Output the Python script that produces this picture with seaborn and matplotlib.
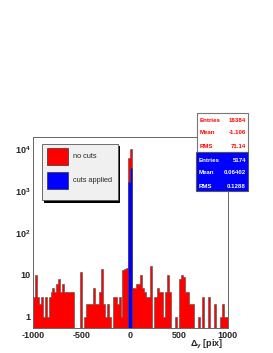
import numpy as np
import pandas as pd
import matplotlib
matplotlib.use("Agg")
import matplotlib.pyplot as plt
import seaborn as sns
from matplotlib.patches import Rectangle
from matplotlib.ticker import LogLocator, MultipleLocator, NullFormatter

# Histogram: 100 bins from -1000 to 1000 (width 20)
n_bins = 100
x_lo, x_hi = -1000, 1000

# "no cuts" counts, bins -1000..0 then 0..1000
red_left = [3, 10, 3, 2, 3, 1, 3, 1, 3, 4,
            5, 4, 6, 8, 4, 6, 4, 4, 4, 4,
            4, 0, 0, 0, 12, 0, 1, 2, 2, 2,
            2, 5, 2, 2, 4, 14, 2, 1, 2, 1,
            0, 3, 3, 2, 3, 1, 13, 14, 15, 6000]
red_right = [10033, 5, 5, 6, 6, 10, 5, 4, 3, 3,
             16, 0, 3, 3, 5, 4, 4, 1, 4, 10,
             4, 0, 0, 1, 0, 8, 10, 9, 4, 4,
             2, 2, 2, 0, 0, 1, 0, 3, 0, 0,
             3, 0, 0, 2, 0, 0, 1, 2, 1, 1]

# "cuts applied" counts: everything sits in the two bins around 0
blue_left = [0] * 49 + [1620]
blue_right = [3554] + [0] * 49

legend_labels = ["no cuts", "cuts applied"]
stats_red = [("Entries", "16384"), ("Mean", "-1.106"), ("RMS", "71.14")]
stats_blue = [("Entries", "5174"), ("Mean", "0.06402"), ("RMS", "0.1288")]

y_ticks = [1, 10, 100, 1000, 10000]
y_tick_labels = ["1", "10", r"$10^{2}$", r"$10^{3}$", r"$10^{4}$"]
x_ticks = [-1000, -500, 0, 500, 1000]

sns.set_style("white")
plt.rcParams["font.family"] = ["Liberation Sans", "DejaVu Sans"]
plt.rcParams["mathtext.fontset"] = "custom"
plt.rcParams["mathtext.rm"] = "Liberation Sans:bold"
plt.rcParams["mathtext.it"] = "Liberation Sans:bold"
plt.rcParams["mathtext.bf"] = "Liberation Sans:bold"

W, H = 273, 353


def fx(x):
    return x / W


def fy(y):
    return 1 - y / H


def box(x0, y0, x1, y1, **kw):
    return Rectangle((fx(x0), fy(y1)), fx(x1) - fx(x0), fy(y0) - fy(y1),
                     transform=fig.transFigure, **kw)


fig = plt.figure(figsize=(W / 100, H / 100), dpi=100)
ax = fig.add_axes([fx(33), fy(328), fx(227.5) - fx(33), fy(137) - fy(328)])

edges = list(np.linspace(x_lo, x_hi, n_bins + 1))
centers = [(a + b) / 2 for a, b in zip(edges[:-1], edges[1:])]
df_red = pd.DataFrame({"dy": centers, "n": red_left + red_right})
df_blue = pd.DataFrame({"dy": centers, "n": blue_left + blue_right})

sns.histplot(data=df_red, x="dy", weights="n", bins=edges, element="step",
             fill=True, color="#ff0000", alpha=1, edgecolor="#4a4a4a",
             linewidth=0.4, ax=ax)
sns.histplot(data=df_blue, x="dy", weights="n", bins=edges, element="step",
             fill=True, color="#0000ff", alpha=1, edgecolor="#4a4a4a",
             linewidth=0.4, ax=ax)

ax.set_yscale("log")
ax.set_xlim(x_lo, x_hi)
ax.set_ylim(0.547, 19300)
ax.set_ylabel("")
ax.set_xlabel("")

ax.set_yticks(y_ticks)
ax.set_yticklabels(y_tick_labels)
ax.yaxis.set_minor_locator(LogLocator(base=10, subs=np.arange(2, 10)))
ax.yaxis.set_minor_formatter(NullFormatter())
ax.set_xticks(x_ticks)
ax.set_xticklabels([str(t) for t in x_ticks])
ax.xaxis.set_minor_locator(MultipleLocator(100))

ax.tick_params(which="major", direction="in", length=4, width=0.6,
               color="#555555", labelsize=6.5, pad=2)
ax.tick_params(which="minor", direction="in", length=2, width=0.5,
               color="#555555")
for lab in ax.get_xticklabels() + ax.get_yticklabels():
    lab.set_fontweight("bold")

for sp in ax.spines.values():
    sp.set_color("#666666")
    sp.set_linewidth(0.7)

fig.text(fx(223), fy(344), r"$\Delta_{y}$ [pix]", ha="right", va="center",
         fontsize=6.5, fontweight="bold")

# legend box with shadow
fig.add_artist(box(44, 146, 120, 203, facecolor="black", edgecolor="none", zorder=5))
fig.add_artist(box(42, 144, 118, 200, facecolor="#f0f0f0", edgecolor="#555555",
                   linewidth=0.6, zorder=6))
fig.add_artist(box(47, 148, 68, 165, facecolor="#ff0000", edgecolor="#333333",
                   linewidth=0.5, zorder=7))
fig.add_artist(box(47, 172, 68, 189, facecolor="#0000ff", edgecolor="#333333",
                   linewidth=0.5, zorder=7))
fig.text(fx(73), fy(157), legend_labels[0], ha="left", va="center",
         fontsize=5.3, zorder=8)
fig.text(fx(73), fy(181), legend_labels[1], ha="left", va="center",
         fontsize=5.3, zorder=8)

# stat boxes
fig.add_artist(box(197, 113, 248, 152, facecolor="white", edgecolor="#777777",
                   linewidth=0.8, zorder=5))
for (name, val), yy in zip(stats_red, [120, 133, 146]):
    fig.text(fx(200), fy(yy), name, ha="left", va="center", fontsize=4.4,
             fontweight="bold", color="#ff0000", zorder=6)
    fig.text(fx(246), fy(yy), val, ha="right", va="center", fontsize=4.4,
             fontweight="bold", color="#ff0000", zorder=6)

fig.add_artist(box(196, 152, 248, 191, facecolor="#0000ff", edgecolor="#555555",
                   linewidth=0.8, zorder=5))
for (name, val), yy in zip(stats_blue, [161, 173, 186]):
    fig.text(fx(199), fy(yy), name, ha="left", va="center", fontsize=4.4,
             fontweight="bold", color="white", zorder=6)
    fig.text(fx(246), fy(yy), val, ha="right", va="center", fontsize=4.4,
             fontweight="bold", color="white", zorder=6)

fig.savefig("out.png", dpi=100)
plt.close(fig)
